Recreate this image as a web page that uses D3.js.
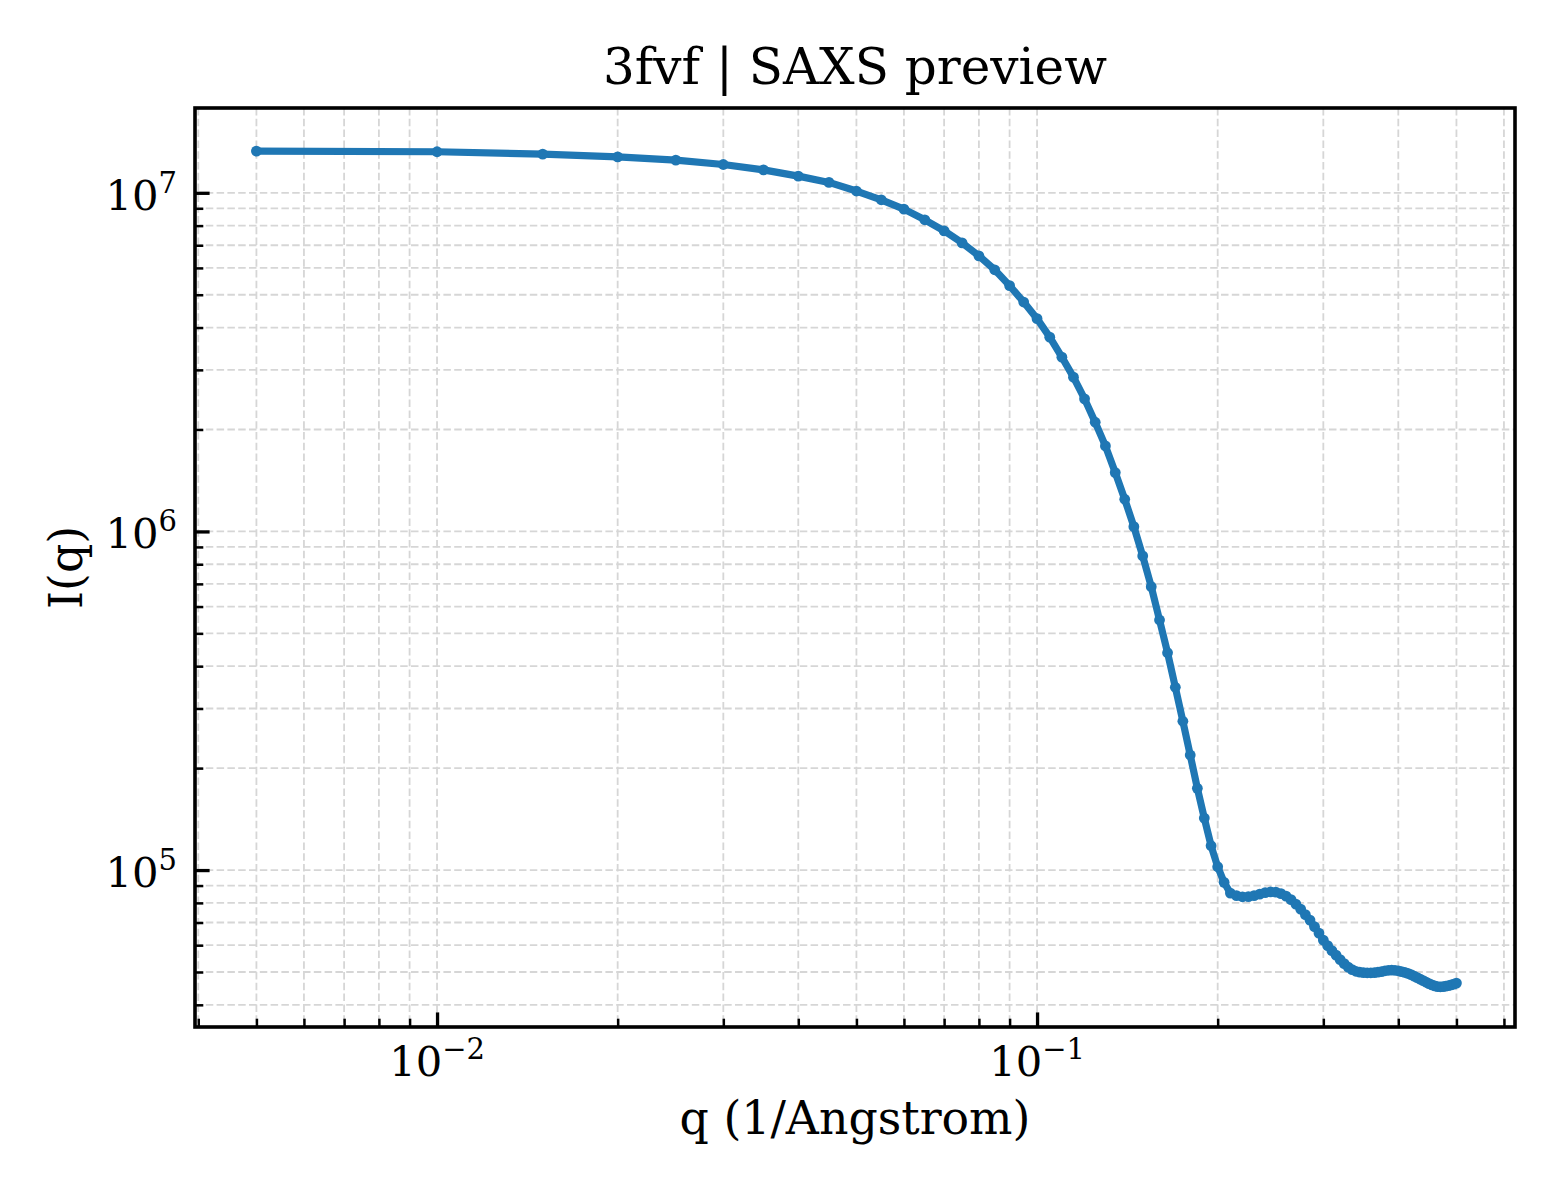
<!doctype html>
<html lang="en">
<head>
  <meta charset="utf-8">
  <title>3fvf SAXS preview</title>
  <style>
    body { margin: 0; background: #fff; }
    .grid line { stroke: #d6d6d6; stroke-width: 1.8; stroke-dasharray: 7.5 3.3; }
    .ticklabel { font-family: "DejaVu Serif", serif; font-size: 41.7px; fill: #000; }
    .label { font-family: "DejaVu Serif", serif; font-size: 45.8px; fill: #000; }
    .title { font-family: "DejaVu Serif", serif; font-size: 50px; fill: #000; }
  </style>
</head>
<body>
<div id="chart"></div>

<script src="https://d3js.org/d3.v7.min.js"></script>
<script>
  // scattering vector q (1/Angstrom), step 0.005 from 0.005 to 0.5
  const qValues = [
    0.005, 0.010, 0.015, 0.020, 0.025, 0.030, 0.035, 0.040, 0.045, 0.050,
    0.055, 0.060, 0.065, 0.070, 0.075, 0.080, 0.085, 0.090, 0.095, 0.100,
    0.105, 0.110, 0.115, 0.120, 0.125, 0.130, 0.135, 0.140, 0.145, 0.150,
    0.155, 0.160, 0.165, 0.170, 0.175, 0.180, 0.185, 0.190, 0.195, 0.200,
    0.205, 0.210, 0.215, 0.220, 0.225, 0.230, 0.235, 0.240, 0.245, 0.250,
    0.255, 0.260, 0.265, 0.270, 0.275, 0.280, 0.285, 0.290, 0.295, 0.300,
    0.305, 0.310, 0.315, 0.320, 0.325, 0.330, 0.335, 0.340, 0.345, 0.350,
    0.355, 0.360, 0.365, 0.370, 0.375, 0.380, 0.385, 0.390, 0.395, 0.400,
    0.405, 0.410, 0.415, 0.420, 0.425, 0.430, 0.435, 0.440, 0.445, 0.450,
    0.455, 0.460, 0.465, 0.470, 0.475, 0.480, 0.485, 0.490, 0.495, 0.500
  ];

  // intensity I(q)
  const intensity = [
    1.328e7, 1.322e7, 1.301e7, 1.277e7, 1.249e7, 1.212e7, 1.169e7, 1.120e7, 1.073e7, 1.012e7,
    9.535e6, 8.951e6, 8.324e6, 7.721e6, 7.117e6, 6.515e6, 5.924e6, 5.320e6, 4.758e6, 4.250e6,
    3.748e6, 3.271e6, 2.855e6, 2.463e6, 2.101e6, 1.789e6, 1.492e6, 1.245e6, 1.033e6, 8.465e5,
    6.870e5, 5.476e5, 4.384e5, 3.465e5, 2.750e5, 2.187e5, 1.743e5, 1.424e5, 1.180e5, 1.023e5,
    9.198e4, 8.552e4, 8.408e4, 8.339e4, 8.351e4, 8.408e4, 8.494e4, 8.581e4, 8.622e4, 8.610e4,
    8.523e4, 8.379e4, 8.182e4, 7.935e4, 7.670e4, 7.389e4, 7.117e4, 6.809e4, 6.515e4, 6.212e4,
    5.984e4, 5.784e4, 5.609e4, 5.440e4, 5.294e4, 5.169e4, 5.082e4, 5.024e4, 4.997e4, 4.980e4,
    4.973e4, 4.973e4, 4.980e4, 4.997e4, 5.014e4, 5.041e4, 5.058e4, 5.065e4, 5.058e4, 5.041e4,
    5.014e4, 4.987e4, 4.953e4, 4.913e4, 4.863e4, 4.814e4, 4.765e4, 4.716e4, 4.668e4, 4.621e4,
    4.580e4, 4.549e4, 4.528e4, 4.522e4, 4.528e4, 4.543e4, 4.559e4, 4.580e4, 4.605e4, 4.637e4
  ];

  // axis limits and tick labels
  const xDomain = [0.00395, 0.626];
  const yDomain = [3.44e4, 1.78e7];
  const xMajor = [0.01, 0.1];
  const xMajorLabels = [["10", "\u22122"], ["10", "\u22121"]];
  const yMajor = [1e5, 1e6, 1e7];
  const yMajorLabels = [["10", "5"], ["10", "6"], ["10", "7"]];

  const titleText = "3fvf | SAXS preview";
  const xLabelText = "q (1/Angstrom)";
  const yLabelText = "I(q)";

  const width = 1560, height = 1200;
  const plot = { left: 195, right: 1515, top: 108, bottom: 1027 };

  const svg = d3.select('#chart')
    .append('svg')
    .attr('width', width)
    .attr('height', height);

  const x = d3.scaleLog().domain(xDomain).range([plot.left, plot.right]);
  const y = d3.scaleLog().domain(yDomain).range([plot.bottom, plot.top]);

  // minor tick positions: 2..9 times each decade, inside the domain
  function minorTicks(domain) {
    const out = [];
    const lo = Math.floor(Math.log10(domain[0])), hi = Math.ceil(Math.log10(domain[1]));
    for (let e = lo; e <= hi; e++) {
      for (let k = 2; k <= 9; k++) {
        const v = k * Math.pow(10, e);
        if (v >= domain[0] && v <= domain[1]) out.push(v);
      }
    }
    return out;
  }
  const xMinor = minorTicks(xDomain);
  const yMinor = minorTicks(yDomain);

  // grid, major and minor together
  const grid = svg.append('g').attr('class', 'grid');
  grid.selectAll('line.gx')
    .data(xMajor.concat(xMinor))
    .join('line')
    .attr('class', 'gx')
    .attr('x1', d => x(d)).attr('x2', d => x(d))
    .attr('y1', plot.top).attr('y2', plot.bottom);
  grid.selectAll('line.gy')
    .data(yMajor.concat(yMinor))
    .join('line')
    .attr('class', 'gy')
    .attr('y1', d => y(d)).attr('y2', d => y(d))
    .attr('x1', plot.left).attr('x2', plot.right);

  // the curve
  const points = qValues.map((q, i) => [q, intensity[i]]);
  const line = d3.line().x(d => x(d[0])).y(d => y(d[1]));

  svg.append('path')
    .datum(points)
    .attr('d', line)
    .attr('fill', 'none')
    .attr('stroke', '#1f77b4')
    .attr('stroke-width', 7.2)
    .attr('stroke-linejoin', 'round')
    .attr('stroke-linecap', 'round');

  svg.append('g')
    .selectAll('circle')
    .data(points)
    .join('circle')
    .attr('cx', d => x(d[0]))
    .attr('cy', d => y(d[1]))
    .attr('r', 5.4)
    .attr('fill', '#1f77b4');

  // ticks pointing inward, drawn with d3 axes
  const xAxisMajor = d3.axisBottom(x).tickValues(xMajor).tickSize(-14.6).tickFormat('');
  const xAxisMinor = d3.axisBottom(x).tickValues(xMinor).tickSize(-8.3).tickFormat('');
  const yAxisMajor = d3.axisLeft(y).tickValues(yMajor).tickSize(-14.6).tickFormat('');
  const yAxisMinor = d3.axisLeft(y).tickValues(yMinor).tickSize(-8.3).tickFormat('');

  function styleAxis(g, w) {
    g.select('.domain').remove();
    g.selectAll('line').attr('stroke', '#000').attr('stroke-width', w);
  }
  svg.append('g').attr('transform', `translate(0,${plot.bottom})`).call(xAxisMajor).call(g => styleAxis(g, 3.3));
  svg.append('g').attr('transform', `translate(0,${plot.bottom})`).call(xAxisMinor).call(g => styleAxis(g, 2.5));
  svg.append('g').attr('transform', `translate(${plot.left},0)`).call(yAxisMajor).call(g => styleAxis(g, 3.3));
  svg.append('g').attr('transform', `translate(${plot.left},0)`).call(yAxisMinor).call(g => styleAxis(g, 2.5));

  // frame
  svg.append('rect')
    .attr('x', plot.left).attr('y', plot.top)
    .attr('width', plot.right - plot.left)
    .attr('height', plot.bottom - plot.top)
    .attr('fill', 'none')
    .attr('stroke', '#000')
    .attr('stroke-width', 3.6);

  // tick labels as 10 with a superscript exponent
  function powerLabel(sel) {
    sel.append('tspan').text(d => d.label[0]);
    sel.append('tspan')
      .attr('dy', -17)
      .attr('font-size', 29)
      .text(d => d.label[1]);
  }

  svg.append('g')
    .selectAll('text')
    .data(xMajor.map((v, i) => ({ v, label: xMajorLabels[i] })))
    .join('text')
    .attr('class', 'ticklabel')
    .attr('x', d => x(d.v))
    .attr('y', 1076)
    .attr('text-anchor', 'middle')
    .call(powerLabel);

  svg.append('g')
    .selectAll('text')
    .data(yMajor.map((v, i) => ({ v, label: yMajorLabels[i] })))
    .join('text')
    .attr('class', 'ticklabel')
    .attr('x', 177)
    .attr('y', d => y(d.v) + 17)
    .attr('text-anchor', 'end')
    .call(powerLabel);

  // titles
  svg.append('text')
    .attr('class', 'title')
    .attr('x', (plot.left + plot.right) / 2)
    .attr('y', 84)
    .attr('text-anchor', 'middle')
    .text(titleText);

  svg.append('text')
    .attr('class', 'label')
    .attr('x', (plot.left + plot.right) / 2)
    .attr('y', 1134)
    .attr('text-anchor', 'middle')
    .text(xLabelText);

  svg.append('text')
    .attr('class', 'label')
    .attr('transform', `translate(82,${(plot.top + plot.bottom) / 2}) rotate(-90)`)
    .attr('text-anchor', 'middle')
    .text(yLabelText);
</script>
</body>
</html>
